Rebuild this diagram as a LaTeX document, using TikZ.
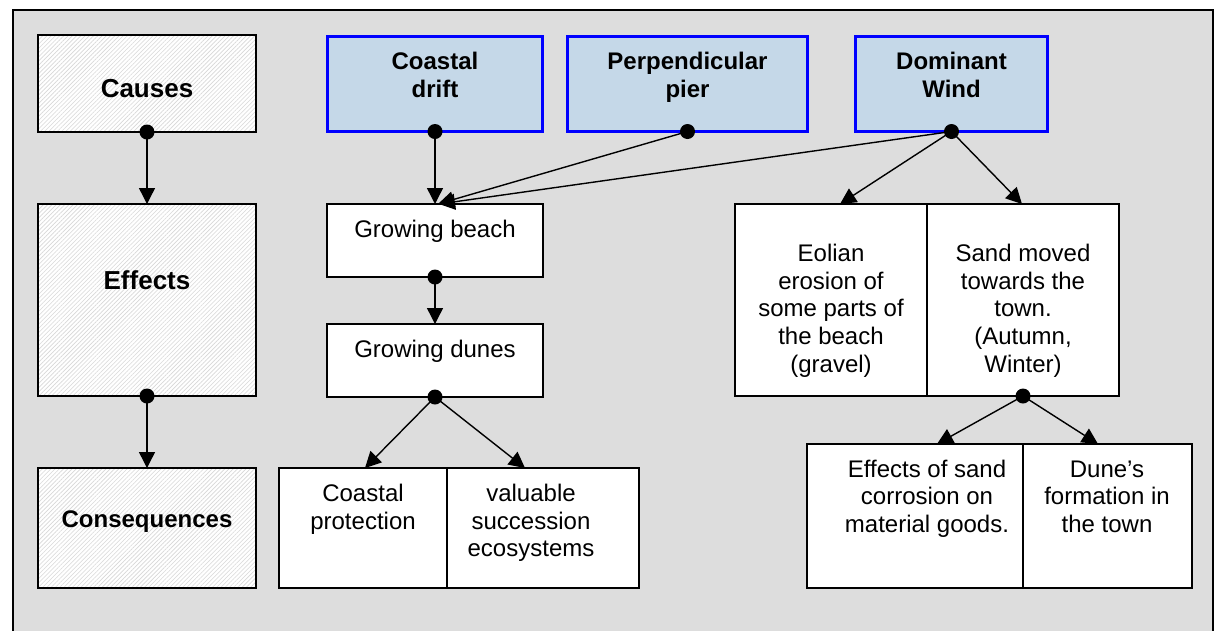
\documentclass[tikz,border=0pt]{standalone}
\usepackage{fontspec}
\setmainfont{Liberation Sans}
\usetikzlibrary{arrows.meta,patterns.meta,calc}
\definecolor{bggray}{RGB}{221,221,221}
\definecolor{boxblue}{RGB}{197,216,232}
\definecolor{hatchgray}{RGB}{216,216,216}
\begin{document}
\begin{tikzpicture}[x=1pt,y=-1pt,
  hatchbox/.style={draw=black,line width=1.4pt,preaction={fill=white},pattern={Lines[angle=45,distance=3pt,line width=0.6pt]},pattern color=hatchgray,inner sep=0pt,outer sep=0pt,anchor=north west},
  causebox/.style={draw=blue,line width=3pt,fill=boxblue,inner sep=0pt,outer sep=0pt,anchor=north west},
  plainbox/.style={draw=black,line width=1.4pt,fill=white,inner sep=0pt,outer sep=0pt,anchor=north west},
  txt/.style={font=\fontsize{24}{27.6}\selectfont,align=center,inner sep=0pt,anchor=base},
  btxt/.style={txt,font=\fontsize{24}{27.6}\selectfont\bfseries},
  bigtxt/.style={txt,font=\fontsize{26}{30}\selectfont\bfseries},
  conn/.style={line width=1.4pt,-{Triangle[length=16pt,width=16pt]}},
  dotmark/.style={fill=black}
]
\useasboundingbox (0,0) rectangle (1217,630);
\clip (0,0) rectangle (1217,630);
\fill[white] (0,0) rectangle (1217,630);
\draw[line width=1.5pt,fill=bggray] (13,10) rectangle (1213,660);

% left column
\node[hatchbox,minimum width=218pt,minimum height=97pt] (causes) at (38,35) {};
\node[hatchbox,minimum width=218pt,minimum height=192pt] (effects) at (38,204) {};
\node[hatchbox,minimum width=218pt,minimum height=120pt] (conseq) at (38,468) {};
\node[bigtxt] (tcauses) at (147,97) {Causes};
\node[bigtxt] (teffects) at (147,289) {Effects};
\node[btxt] (tconseq) at (147,527) {Consequences};

% causes
\node[causebox,minimum width=215pt,minimum height=95pt] (cdrift) at (327.5,36.5) {};
\node[causebox,minimum width=240pt,minimum height=95pt] (perp) at (567.5,36.5) {};
\node[causebox,minimum width=192pt,minimum height=95pt] (domw) at (855.5,36.5) {};
\node[btxt] (tcdrift) at (435,97) {Coastal\\drift};
\node[btxt] (tperp) at (687.5,97) {Perpendicular\\pier};
\node[btxt] (tdomw) at (951.5,97) {Dominant\\Wind};

% effects
\node[plainbox,minimum width=216pt,minimum height=73pt] (beach) at (327,204) {};
\node[plainbox,minimum width=216pt,minimum height=73pt] (dunes) at (327,324) {};
\node[plainbox,minimum width=192pt,minimum height=192pt] (eol) at (735,204) {};
\node[plainbox,minimum width=192pt,minimum height=192pt] (sand) at (927,204) {};
\node[txt] (tbeach) at (435,237) {Growing beach};
\node[txt] (tdunes) at (435,357) {Growing dunes};
\node[txt] (teol) at (831,372) {Eolian\\erosion of\\some parts of\\the beach\\(gravel)};
\node[txt] (tsand) at (1023,372) {Sand moved\\towards the\\town.\\(Autumn,\\Winter)};

% consequences
\node[plainbox,minimum width=192pt,minimum height=120pt] (valu) at (447,468) {};
\node[plainbox,minimum width=168pt,minimum height=120pt] (cprot) at (279,468) {};
\node[plainbox,minimum width=169pt,minimum height=144pt] (dune) at (1023,444) {};
\node[plainbox,minimum width=216pt,minimum height=144pt] (effs) at (807,444) {};
\node[txt] (tcprot) at (363,529.3) {Coastal\\protection};
\node[txt] (tvalu) at (531,556.7) {valuable\\succession\\ecosystems};
\node[txt] (teffs) at (927,532.5) {Effects of sand\\corrosion on\\material goods.};
\node[txt] (tdune) at (1107,532.5) {Dune’s\\formation in\\the town};

% connectors
\draw[conn] (causes.south) -- (effects.north);
\draw[conn] (effects.south) -- (conseq.north);
\draw[conn] (cdrift.south) -- (beach.north);
\draw[conn] (perp.south) -- ($(beach.north)+(3,0)$);
\draw[conn] (domw.south) -- ($(beach.north)+(4,0)$);
\draw[conn] (beach.south) -- (dunes.north);
\draw[conn] (dunes.south) -- ($(cprot.north)+(2,0)$);
\draw[conn] (dunes.south) -- ($(valu.north)+(-18,0)$);
\draw[conn] (domw.south) -- ($(eol.north)+(9,0)$);
\draw[conn] (domw.south) -- ($(sand.north)+(-1,0)$);
\draw[conn] (sand.south) -- ($(effs.north)+(22,0)$);
\draw[conn] (sand.south) -- ($(dune.north)+(-9.5,0)$);

% dots
\foreach \b in {causes,effects,cdrift,perp,domw,beach,dunes,sand}
  \fill[dotmark] (\b.south) circle (7.5pt);
\end{tikzpicture}
\end{document}
